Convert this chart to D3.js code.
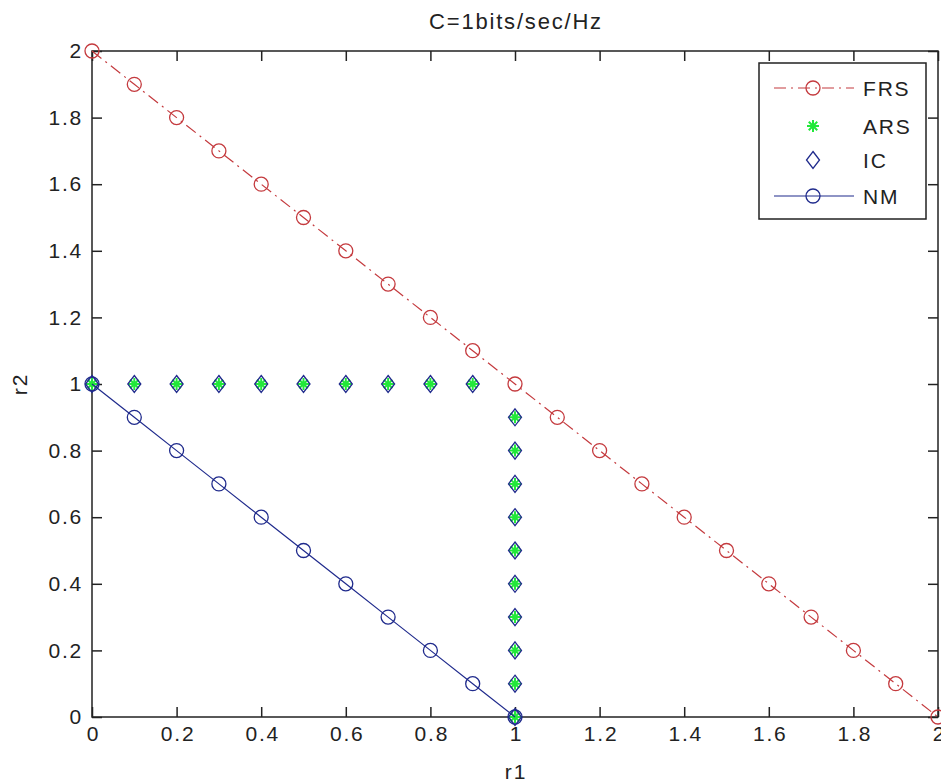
<!DOCTYPE html>
<html>
<head>
<meta charset="utf-8">
<script src="https://cdn.jsdelivr.net/npm/d3@7"></script>
<style>
body { margin: 0; background: #fff; }
text { font-family: "Liberation Sans", Arial, sans-serif; fill: #222; letter-spacing: 1.8px; }
</style>
</head>
<body>
<div id="chart"></div>
<script>
// data
var frsX = [0,0.1,0.2,0.3,0.4,0.5,0.6,0.7,0.8,0.9,1,1.1,1.2,1.3,1.4,1.5,1.6,1.7,1.8,1.9,2];
var frsY = [2,1.9,1.8,1.7,1.6,1.5,1.4,1.3,1.2,1.1,1,0.9,0.8,0.7,0.6,0.5,0.4,0.3,0.2,0.1,0];
var arsX = [0,0.1,0.2,0.3,0.4,0.5,0.6,0.7,0.8,0.9,1,1,1,1,1,1,1,1,1,1];
var arsY = [1,1,1,1,1,1,1,1,1,1,0.9,0.8,0.7,0.6,0.5,0.4,0.3,0.2,0.1,0];
var icX = [0,0.1,0.2,0.3,0.4,0.5,0.6,0.7,0.8,0.9,1,1,1,1,1,1,1,1,1,1];
var icY = [1,1,1,1,1,1,1,1,1,1,0.9,0.8,0.7,0.6,0.5,0.4,0.3,0.2,0.1,0];
var nmX = [0,0.1,0.2,0.3,0.4,0.5,0.6,0.7,0.8,0.9,1];
var nmY = [1,0.9,0.8,0.7,0.6,0.5,0.4,0.3,0.2,0.1,0];
var xTicks = [0,0.2,0.4,0.6,0.8,1,1.2,1.4,1.6,1.8,2];
var yTicks = [0,0.2,0.4,0.6,0.8,1,1.2,1.4,1.6,1.8,2];
var legendNames = ["FRS","ARS","IC","NM"];

// plot box edges (don't call these top/left, window.top is read only)
var w = 941, h = 782,
    pLeft = 92, pTop = 51, pRight = 938, pBottom = 717;

var red = "#c43a3e", green = "#22e83a", blue = "#1f2a8c";

var svg = d3.select('#chart')
  .append("svg")
  .attr("width", w)
  .attr("height", h);

var x = d3.scaleLinear().domain([0, 2]).range([pLeft, pRight]);
var y = d3.scaleLinear().domain([0, 2]).range([pBottom, pTop]);

function zip(a, b) { return a.map(function(v, i){ return [v, b[i]]; }); }

// axes box
svg.append("rect")
  .attr("x", pLeft).attr("y", pTop)
  .attr("width", pRight - pLeft).attr("height", pBottom - pTop)
  .attr("fill", "#fff").attr("stroke", "#222").attr("stroke-width", 1.5);

var fmt = function(d){ return d3.format("~g")(d); };

var gx = svg.append("g").attr("transform", "translate(1," + pBottom + ")")
  .call(d3.axisBottom(x).tickValues(xTicks).tickFormat(fmt).tickSizeInner(-10).tickSizeOuter(0).tickPadding(9));
var gy = svg.append("g").attr("transform", "translate(" + pLeft + ",0)")
  .call(d3.axisLeft(y).tickValues(yTicks).tickFormat(fmt).tickSizeInner(-10).tickSizeOuter(0).tickPadding(9));
var gt = svg.append("g").attr("transform", "translate(0," + pTop + ")")
  .call(d3.axisTop(x).tickValues(xTicks).tickFormat("").tickSizeInner(-10).tickSizeOuter(0));
var gr = svg.append("g").attr("transform", "translate(" + pRight + ",0)")
  .call(d3.axisRight(y).tickValues(yTicks).tickFormat("").tickSizeInner(-10).tickSizeOuter(0));

[gx, gy, gt, gr].forEach(function(g){
  g.select(".domain").remove();
  g.selectAll("line").attr("stroke", "#222").attr("stroke-width", 1.5);
  g.selectAll("text").attr("font-size", 21).attr("fill", "#222")
    .style("font-family", '"Liberation Sans", Arial, sans-serif');
});
gx.selectAll("line").attr("transform", "translate(-1,0)");

// title and labels
svg.append("text").attr("x", (pLeft + pRight) / 2 + 1).attr("y", 29)
  .attr("text-anchor", "middle").attr("font-size", 22).text("C=1bits/sec/Hz");
svg.append("text").attr("x", (pLeft + pRight) / 2 + 1).attr("y", 779)
  .attr("text-anchor", "middle").attr("font-size", 21).text("r1");
svg.append("text").attr("transform", "translate(27," + (pTop + pBottom) / 2 + ") rotate(-90)")
  .attr("text-anchor", "middle").attr("font-size", 21).text("r2");

var line = d3.line().x(function(d){ return x(d[0]); }).y(function(d){ return y(d[1]); });

// FRS
svg.append("path").datum(zip(frsX, frsY))
  .attr("d", line).attr("fill", "none").attr("stroke", red)
  .attr("stroke-width", 1.2).attr("stroke-dasharray", "12,5,2,5");
svg.selectAll(".frs").data(zip(frsX, frsY)).enter().append("circle")
  .attr("cx", function(d){ return x(d[0]); }).attr("cy", function(d){ return y(d[1]); })
  .attr("r", 7).attr("fill", "none").attr("stroke", red).attr("stroke-width", 1.3);

// star marker path
function star(cx, cy, s) {
  var p = "";
  [0, 45, 90, 135].forEach(function(a){
    var r = a * Math.PI / 180, dx = Math.cos(r) * s, dy = Math.sin(r) * s;
    p += "M" + (cx - dx) + "," + (cy - dy) + "L" + (cx + dx) + "," + (cy + dy);
  });
  return p;
}
function diamond(cx, cy, rw, rh) {
  return "M" + cx + "," + (cy - rh) + "L" + (cx + rw) + "," + cy + "L" + cx + "," + (cy + rh) + "L" + (cx - rw) + "," + cy + "Z";
}

// ARS
svg.selectAll(".ars").data(zip(arsX, arsY)).enter().append("path")
  .attr("d", function(d){ return star(x(d[0]), y(d[1]), 6); })
  .attr("stroke", green).attr("stroke-width", 2).attr("fill", "none");

// IC
svg.selectAll(".ic").data(zip(icX, icY)).enter().append("path")
  .attr("d", function(d){ return diamond(x(d[0]), y(d[1]), 6.5, 8.5); })
  .attr("stroke", blue).attr("stroke-width", 1.3).attr("fill", "none");

// NM
svg.append("path").datum(zip(nmX, nmY))
  .attr("d", line).attr("fill", "none").attr("stroke", blue).attr("stroke-width", 1.2);
svg.selectAll(".nm").data(zip(nmX, nmY)).enter().append("circle")
  .attr("cx", function(d){ return x(d[0]); }).attr("cy", function(d){ return y(d[1]); })
  .attr("r", 7).attr("fill", "none").attr("stroke", blue).attr("stroke-width", 1.3);

// legend
var lg = svg.append("g");
lg.append("rect").attr("x", 759).attr("y", 63).attr("width", 167).attr("height", 156)
  .attr("fill", "#fff").attr("stroke", "#222").attr("stroke-width", 1.5);
var rowsY = [88, 126, 160, 196];
var mx = 813;
legendNames.forEach(function(name, i){
  var ry = rowsY[i];
  if (name == "FRS") {
    lg.append("path").attr("d", "M774," + ry + "L854," + ry).attr("stroke", red)
      .attr("stroke-width", 1.2).attr("stroke-dasharray", "12,5,2,5").attr("fill", "none");
    lg.append("circle").attr("cx", mx).attr("cy", ry).attr("r", 7).attr("fill", "none")
      .attr("stroke", red).attr("stroke-width", 1.3);
  } else if (name == "ARS") {
    lg.append("path").attr("d", star(mx, ry, 6)).attr("stroke", green).attr("stroke-width", 2);
  } else if (name == "IC") {
    lg.append("path").attr("d", diamond(mx, ry, 6.5, 8.5)).attr("stroke", blue)
      .attr("stroke-width", 1.3).attr("fill", "none");
  } else {
    lg.append("path").attr("d", "M774," + ry + "L854," + ry).attr("stroke", blue).attr("stroke-width", 1.2);
    lg.append("circle").attr("cx", mx).attr("cy", ry).attr("r", 7).attr("fill", "none")
      .attr("stroke", blue).attr("stroke-width", 1.3);
  }
  lg.append("text").attr("x", 863).attr("y", ry + 7.5).attr("font-size", 21).text(name);
});
</script>
</body>
</html>
